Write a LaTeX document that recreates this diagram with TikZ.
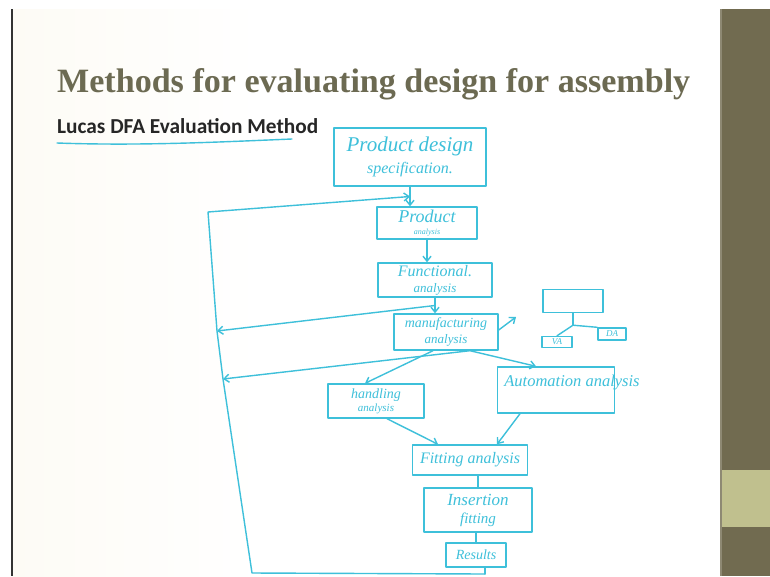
\documentclass[tikz,border=0pt]{standalone}
\usepackage{fontspec}
\usepackage{graphicx}
\setmainfont{Liberation Serif}
\newfontfamily\subfont{Carlito}
\usetikzlibrary{arrows.meta,calc}

\definecolor{ink}{RGB}{62,192,218}
\definecolor{titlegrey}{RGB}{108,106,82}
\definecolor{bandolive}{RGB}{113,107,80}
\definecolor{bandlight}{RGB}{192,192,142}
\definecolor{slidecream}{RGB}{253,251,245}

\newcommand{\fs}[1]{\fontsize{#1}{#1}\selectfont}

\begin{document}
\begin{tikzpicture}[x=1pt,y=-1pt,
  pen/.style={draw=ink,line width=1.4pt,line cap=round,line join=round},
  arr/.style={pen,-{Straight Barb[length=5pt,width=8pt]}},
  hbox/.style={pen,rectangle,inner sep=0pt,align=center,text=ink,font=\itshape},
  hand/.style={text=ink,font=\itshape,inner sep=0pt,align=center}]
\useasboundingbox (0,0) rectangle (770,576);
% slide background and side band
\fill[white] (0,0) rectangle (770,576);
\shade[left color=slidecream,right color=white] (12,9) rectangle (260,576);
\fill[black!80] (11,9) rectangle (12.5,576);
\fill[bandolive] (720,9) rectangle (770,576);
\fill[bandlight] (720,470) rectangle (770,527);
\fill[bandolive!80!white] (720,9) rectangle (721.5,576);

% headings
\node[anchor=base west,inner sep=0pt,text=titlegrey] (title) at (57,92)
  {\resizebox{633pt}{!}{\bfseries Methods for evaluating design for assembly}};
\node[anchor=base west,inner sep=0pt,text=black!85] (sub) at (57,133)
  {\resizebox{261pt}{!}{\subfont\bfseries Lucas DFA Evaluation Method}};
\draw[pen] (57,143) .. controls (140,146) and (220,142) .. (292,139);

% process boxes
\node[hbox,minimum width=152pt,minimum height=58pt] (pds) at (410,157)
  {{\fs{21}Product design}\\[6pt]{\fs{16}specification.}};
\node[hbox,minimum width=100pt,minimum height=32pt] (pa) at (427,223)
  {{\fs{18}Product}\\{\fs{8}analysis}};
\node[hbox,minimum width=114pt,minimum height=34pt] (fa) at (435,280)
  {{\fs{16}Functional.}\\[4pt]{\fs{13}analysis}};
\node[hbox,minimum width=104pt,minimum height=36pt] (ma) at (446,332)
  {{\fs{14}manufacturing}\\[3pt]{\fs{13}analysis}};
\node[hbox,minimum width=60pt,minimum height=23pt] (sb) at (573,301) {};
\node[hbox,minimum width=30pt,minimum height=11pt] (va) at (557,342) {\fs{9}VA};
\node[hbox,minimum width=28pt,minimum height=12pt] (da) at (612,334) {\fs{9}DA};
\node[hbox,minimum width=96pt,minimum height=34pt] (ha) at (376,401)
  {{\fs{14}handling}\\[1pt]{\fs{11}analysis}};
\node[hbox,minimum width=117pt,minimum height=46pt] (aa) at (556,390) {};
\node[hand] (aatext) at (572,383) {\fs{16.5}Automation analysis};
\node[hbox,minimum width=115pt,minimum height=30pt] (fit) at (470,460)
  {\fs{16}Fitting analysis};
\node[hbox,minimum width=108pt,minimum height=44pt] (ins) at (478,510)
  {{\fs{17}Insertion}\\[6pt]{\fs{15}fitting}};
\node[hbox,minimum width=60pt,minimum height=24pt] (res) at (476,555)
  {\fs{14}Results};

% junction and corner points of the feedback loop
\coordinate (j1) at ($(pds.south)!0.5!(pds.south |- pa.north)$);
\coordinate (j2) at ($(fa.south)!0.5!(fa.south |- ma.north)$);
\coordinate (j3) at ($(ma.south)+(24,0)$);
\coordinate (j4) at ($(ma.south)+(-13,0)$);
\coordinate (tl) at (208,212);
\coordinate (ml1) at (217,331);
\coordinate (ml2) at (223,379);
\coordinate (bl) at (252,573);
\coordinate (br) at (485,574);
\coordinate (mtip) at (516,317);
\coordinate (tj) at ($(sb.south)+(0,12)$);

% main flow
\draw[arr] (pds.south) -- (pds.south |- pa.north);
\draw[arr] (pa.south) -- (pa.south |- fa.north);
\draw[arr] (fa.south) -- (fa.south |- ma.north);
\draw[arr] (j4) -- ($(ha.north)+(-11,0)$);
\draw[arr] (j3) -- ($(aa.north)+(-20,0)$);
\draw[arr] ($(ma.east)+(0,-2)$) -- (mtip);
\draw[arr] ($(ha.south)+(11,0)$) -- ($(fit.north)+(-32,0)$);
\draw[arr] ($(aa.south)+(-36,0)$) -- ($(fit.north)+(27,0)$);
\draw[pen] (fit.south -| ins.north) -- (ins.north);
\draw[pen] (ins.south -| res.north) -- (res.north);
\draw[pen] ($(res.south)+(9,0)$) -- (br);

% feedback loop
\draw[arr] (br) -- (bl) -- (ml2) -- (ml1) -- (tl) -- (j1);
\draw[arr] (j2) -- (ml1);
\draw[arr] (j3) -- (ml2);

% value / design analysis branch
\draw[pen] (sb.south) -- (tj);
\draw[pen] (tj) -- (va.north);
\draw[pen] (tj) -- (da.north west);
\end{tikzpicture}
\end{document}
